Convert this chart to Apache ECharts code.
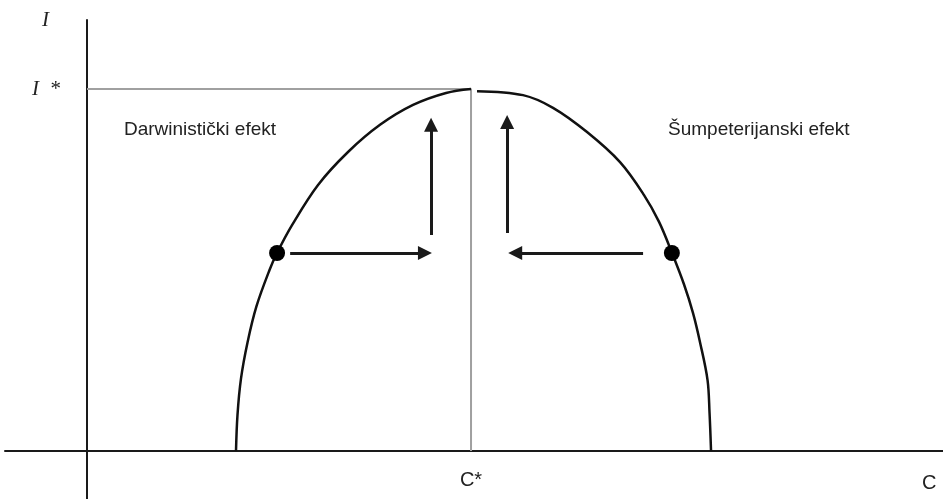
<!DOCTYPE html>
<html>
<head>
<meta charset="utf-8">
<script src="https://cdn.jsdelivr.net/npm/echarts@6/dist/echarts.min.js"></script>
<style>
  html, body { margin: 0; padding: 0; background: #fff; }
  #my_chart { width: 943px; height: 499px; }
</style>
</head>
<body>
<div id="my_chart"></div>
<script>
  // C* = 10, I* = 10 (arbitrary units)
  var leftBranch = [
    [3.880, 0], [3.919, 1], [4.010, 2], [4.180, 3], [4.414, 4], [4.753, 5],
    [4.948, 5.47], [5.339, 6.24], [6.016, 7.35], [6.797, 8.26], [7.630, 9.01],
    [8.490, 9.56], [9.349, 9.89], [10, 10]
  ];
  var rightBranch = [
    [10.156, 9.94], [11.354, 9.83], [12.135, 9.48], [13.021, 8.81], [13.880, 7.98],
    [14.505, 7.07], [14.896, 6.33], [15.234, 5.47], [15.547, 4.6], [15.781, 3.81],
    [15.964, 3], [16.159, 1.96], [16.211, 1.05], [16.250, 0]
  ];
  var guideLines = [[0, 10], [10, 10], [10, 0]];
  var points = [[4.95, 5.47], [15.23, 5.47]];
  var arrows = [
    [[5.29, 5.47], [8.80, 5.47]],
    [[8.96, 5.97], [8.96, 9.01]],
    [[10.94, 6.02], [10.94, 9.09]],
    [[14.48, 5.47], [11.15, 5.47]]
  ];
  var xTickValues = [10, 21.93];
  var xTickLabels = ['C*', 'C'];
  var yTickValues = [10, 11.906];
  var yTickLabels = ['I  *', 'I'];
  var leftText = 'Darwinistički efekt';
  var rightText = 'Šumpeterijanski efekt';

  var my_chart = echarts.init(document.getElementById('my_chart'));

  var tickData = [];
  xTickValues.forEach(function (v, i) {
    tickData.push({
      value: [v, 0],
      label: {
        formatter: xTickLabels[i], position: 'bottom', distance: i === 0 ? 19 : 22,
        fontFamily: 'Liberation Sans', fontSize: 20, color: '#222'
      }
    });
  });
  yTickValues.forEach(function (v, i) {
    tickData.push({
      value: [0, v],
      label: {
        formatter: yTickLabels[i], position: 'left', distance: i === 0 ? 27 : 38,
        fontFamily: 'Liberation Serif', fontStyle: 'italic', fontSize: 21, color: '#222'
      }
    });
  });

  my_chart.setOption({
    animation: false,
    grid: { left: 5, right: 0, top: 20, bottom: 0, containLabel: false, outerBoundsMode: 'none' },
    xAxis: {
      type: 'value',
      min: -2.135, max: 22.29,
      splitLine: { show: false },
      axisTick: { show: false },
      axisLabel: { show: false },
      axisLine: { onZero: true, lineStyle: { color: '#1a1a1a', width: 2 } }
    },
    yAxis: {
      type: 'value',
      min: -1.326, max: 11.906,
      splitLine: { show: false },
      axisTick: { show: false },
      axisLabel: { show: false },
      axisLine: { onZero: true, lineStyle: { color: '#1a1a1a', width: 2 } }
    },
    graphic: [
      { type: 'text', left: 124, top: 120, style: { text: leftText, fill: '#222', font: '19px "Liberation Sans"' } },
      { type: 'text', left: 668, top: 120, style: { text: rightText, fill: '#222', font: '19px "Liberation Sans"' } }
    ],
    series: [
      {
        type: 'line', data: guideLines, symbol: 'none', z: 1,
        lineStyle: { color: '#a0a0a0', width: 2 }
      },
      {
        type: 'line', data: leftBranch, symbol: 'none', smooth: 0.35, z: 3,
        lineStyle: { color: '#111', width: 2.5 }
      },
      {
        type: 'line', data: rightBranch, symbol: 'none', smooth: 0.35, z: 3,
        lineStyle: { color: '#111', width: 2.5 }
      },
      {
        type: 'lines', coordinateSystem: 'cartesian2d', z: 4,
        symbol: ['none', 'triangle'], symbolSize: 14,
        lineStyle: { color: '#1a1a1a', width: 3, opacity: 1 },
        data: arrows.map(function (a) { return { coords: a }; })
      },
      {
        type: 'scatter', data: points, symbolSize: 16, z: 5,
        itemStyle: { color: '#000', opacity: 1 }
      },
      {
        type: 'scatter', data: tickData, symbolSize: 0, silent: true,
        itemStyle: { opacity: 1 },
        label: { show: true }
      }
    ]
  });
</script>
</body>
</html>
